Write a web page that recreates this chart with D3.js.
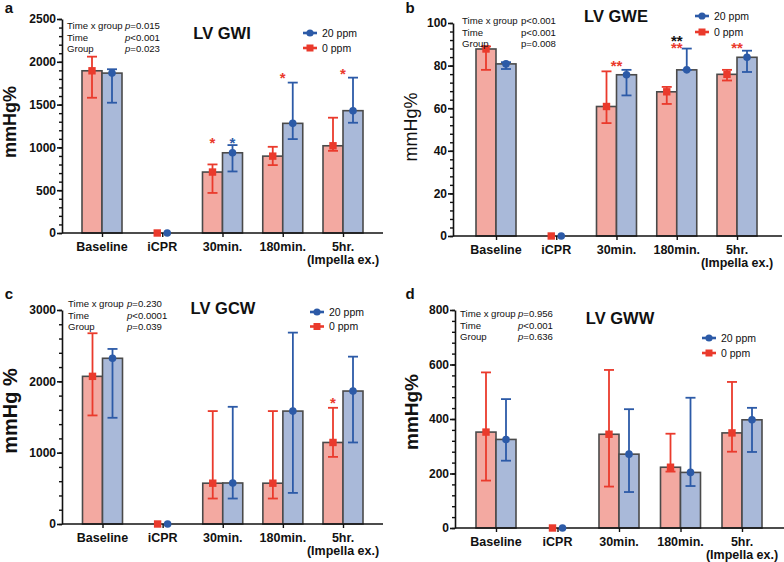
<!DOCTYPE html>
<html><head><meta charset="utf-8">
<script src="https://cdn.jsdelivr.net/npm/d3@7"></script>
<style>
body{margin:0;background:#fff}
svg{display:block}
text{font-family:"Liberation Sans",Arial,sans-serif;fill:#111}
</style>
</head><body>
<svg id="chart" width="784" height="562"></svg>
<script>
// ---------------- DATA ----------------
const categories = ["Baseline", "iCPR", "30min.", "180min.", "5hr."];
const categorySublabels = ["", "", "", "", "(Impella ex.)"];
const groupNames = ["20 ppm", "0 ppm"];

// LV GWI
const gwiZero    = [1895, 0, 712, 898, 1019];
const gwiZeroLo  = [1580, 0, 468, 793, 960];
const gwiZeroHi  = [2060, 0, 801, 1007, 1347];
const gwiTwenty   = [1868, 0, 937, 1281, 1429];
const gwiTwentyLo = [1522, 0, 719, 1097, 1288];
const gwiTwentyHi = [1913, 0, 1027, 1757, 1815];
const gwiTicks = [0, 500, 1000, 1500, 2000, 2500];
const gwiStats = [["Time x group", "p", "=0.015"], ["Time", "p", "<0.001"], ["Group", "p", "=0.023"]];
// stars: [category, bar (-1 zero, 0 centre, 1 twenty), value, text, colour]
const gwiStars = [["30min.", -1, 1090, "*", "red"], ["30min.", 1, 1090, "*", "blue"],
                  ["180min.", 0, 1850, "*", "red"], ["5hr.", 0, 1890, "*", "red"]];

// LV GWE
const gweZero    = [87.8, 0, 60.8, 67.7, 75.9];
const gweZeroLo  = [78, 0, 53, 62, 73];
const gweZeroHi  = [89, 0, 77.3, 70, 78];
const gweTwenty   = [80.8, 0, 75.7, 78, 83.9];
const gweTwentyLo = [78.4, 0, 66, 78, 77];
const gweTwentyHi = [81.6, 0, 78, 88, 87];
const gweTicks = [0, 20, 40, 60, 80, 100];
const gweStats = [["Time x group", "p", "<0.001"], ["Time", "p", "<0.001"], ["Group", "p", "=0.008"]];
const gweStars = [["30min.", 0, 81.4, "**", "red"], ["180min.", 0, 93.1, "**", "black"],
                  ["180min.", 0, 89.8, "**", "red"], ["5hr.", 0, 89.5, "**", "red"]];

// LV GCW
const gcwZero    = [2070, 0, 572, 572, 1143];
const gcwZeroLo  = [1522, 0, 357, 357, 941];
const gcwZeroHi  = [2674, 0, 1583, 1583, 1629];
const gcwTwenty   = [2323, 0, 575, 1583, 1864];
const gcwTwentyLo = [1489, 0, 357, 436, 1143];
const gcwTwentyHi = [2454, 0, 1643, 2683, 2346];
const gcwTicks = [0, 1000, 2000, 3000];
const gcwStats = [["Time x group", "p", "=0.230"], ["Time", "p", "<0.0001"], ["Group", "p", "=0.039"]];
const gcwStars = [["5hr.", -1, 1737, "*", "red"]];

// LV GWW
const gwwZero    = [352, 0, 344, 223, 349];
const gwwZeroLo  = [174, 0, 152, 207, 280];
const gwwZeroHi  = [571, 0, 580, 346, 536];
const gwwTwenty   = [325, 0, 271, 204, 397];
const gwwTwentyLo = [247, 0, 132, 154, 279];
const gwwTwentyHi = [473, 0, 436, 478, 441];
const gwwTicks = [0, 200, 400, 600, 800];
const gwwStats = [["Time x group", "p", "=0.956"], ["Time", "p", "<0.001"], ["Group", "p", "=0.636"]];
const gwwStars = [];

// ---------------- STYLE / LAYOUT ----------------
const C = {red: "#ea3a2c", blue: "#2c5aa7", pink: "#f3a9a1", lblue: "#a9b9d9", stroke: "#4a4a4a", black: "#111"};

const panels = [
  {letter: "a", title: "LV GWI", ylabel: "mmHg%", ylabBold: true, ylabSize: 18, italicP: true,
   zero: gwiZero, zeroLo: gwiZeroLo, zeroHi: gwiZeroHi, tw: gwiTwenty, twLo: gwiTwentyLo, twHi: gwiTwentyHi,
   ticks: gwiTicks, minor: 100, stats: gwiStats, stars: gwiStars,
   L: {x0: 62, x1: 383, y0: 233, y1: 19, c0: 102, c1: 343, letter: [9, 13], title: [222, 39],
       stats: [67, 125, 29], legend: [303, 33, 15], ylab: [16, 122]}},
  {letter: "b", title: "LV GWE", ylabel: "mmHg%", ylabBold: false, ylabSize: 18, italicP: false,
   zero: gweZero, zeroLo: gweZeroLo, zeroHi: gweZeroHi, tw: gweTwenty, twLo: gweTwentyLo, twHi: gweTwentyHi,
   ticks: gweTicks, minor: 4, stats: gweStats, stars: gweStars,
   L: {x0: 453, x1: 782, y0: 236, y1: 23, c0: 496, c1: 737, letter: [410, 13], title: [616, 22],
       stats: [462, 521, 24], legend: [695, 16, 16], ylab: [417, 127]}},
  {letter: "c", title: "LV GCW", ylabel: "mmHg %", ylabBold: true, ylabSize: 20, italicP: true,
   zero: gcwZero, zeroLo: gcwZeroLo, zeroHi: gcwZeroHi, tw: gcwTwenty, twLo: gcwTwentyLo, twHi: gcwTwentyHi,
   ticks: gcwTicks, minor: 200, stats: gcwStats, stars: gcwStars,
   L: {x0: 62, x1: 383, y0: 524, y1: 310, c0: 102.5, c1: 343, letter: [9, 299], title: [223, 314],
       stats: [68, 127, 307], legend: [310, 312, 14.5], ylab: [17, 411]}},
  {letter: "d", title: "LV GWW", ylabel: "mmHg%", ylabBold: true, ylabSize: 19, italicP: true,
   zero: gwwZero, zeroLo: gwwZeroLo, zeroHi: gwwZeroHi, tw: gwwTwenty, twLo: gwwTwentyLo, twHi: gwwTwentyHi,
   ticks: gwwTicks, minor: 40, stats: gwwStats, stars: gwwStars,
   L: {x0: 455, x1: 784, y0: 528, y1: 310, c0: 496, c1: 742, letter: [410, 299], title: [620, 324],
       stats: [460, 518, 317], legend: [702, 338, 15], ylab: [418, 412]}}
];

const svg = d3.select("#chart");
const barW = 20;

panels.forEach(p => {
  const L = p.L;
  const g = svg.append("g");
  const yMax = p.ticks[p.ticks.length - 1];
  const y = d3.scaleLinear().domain([0, yMax]).range([L.y0, L.y1]);
  const x = d3.scalePoint().domain(categories).range([L.c0, L.c1]);

  const rows = categories.map((c, i) => ({
    cat: c, zero: p.zero[i], zeroLo: p.zeroLo[i], zeroHi: p.zeroHi[i],
    tw: p.tw[i], twLo: p.twLo[i], twHi: p.twHi[i]
  }));

  // bars
  const barRows = rows.filter(r => r.zero > 0 || r.tw > 0);
  g.selectAll(".bz").data(barRows).enter().append("rect")
    .attr("x", d => x(d.cat) - barW).attr("width", barW)
    .attr("y", d => y(d.zero)).attr("height", d => y(0) - y(d.zero))
    .attr("fill", C.pink).attr("stroke", C.stroke).attr("stroke-width", 1.6);
  g.selectAll(".bt").data(barRows).enter().append("rect")
    .attr("x", d => x(d.cat)).attr("width", barW)
    .attr("y", d => y(d.tw)).attr("height", d => y(0) - y(d.tw))
    .attr("fill", C.lblue).attr("stroke", C.stroke).attr("stroke-width", 1.6);

  // error bars
  const off = d => (d.zero > 0 || d.tw > 0) ? barW / 2 : 5;
  function errBars(valLo, valHi, sign, col) {
    const eg = g.append("g").attr("stroke", col).attr("stroke-width", 1.8).attr("fill", "none");
    barRows.forEach(d => {
      const cx = x(d.cat) + sign * off(d);
      const lo = y(d[valLo]), hi = y(d[valHi]);
      eg.append("line").attr("x1", cx).attr("x2", cx).attr("y1", lo).attr("y2", hi);
      eg.append("line").attr("x1", cx - 5).attr("x2", cx + 5).attr("y1", hi).attr("y2", hi);
      if (Math.abs(lo - hi) > 0.5 && lo < y(0) - 0.5)
        eg.append("line").attr("x1", cx - 5).attr("x2", cx + 5).attr("y1", lo).attr("y2", lo);
    });
  }
  errBars("zeroLo", "zeroHi", -1, C.red);
  errBars("twLo", "twHi", 1, C.blue);

  // axes
  const yAxisMinor = d3.axisLeft(y).tickValues(d3.range(0, yMax + 1e-9, p.minor)).tickSize(3).tickFormat("");
  const ya2 = g.append("g").attr("transform", `translate(${L.x0},0)`).call(yAxisMinor);
  ya2.select(".domain").remove();
  ya2.selectAll("line").attr("stroke", C.black).attr("stroke-width", 1.4);

  const yAxis = d3.axisLeft(y).tickValues(p.ticks).tickSize(5).tickPadding(1).tickSizeOuter(0)
    .tickFormat(d3.format("d"));
  const ya = g.append("g").attr("transform", `translate(${L.x0},0)`).call(yAxis);
  ya.select(".domain").attr("stroke", C.black).attr("stroke-width", 1.6);
  ya.selectAll("line").attr("stroke", C.black).attr("stroke-width", 1.6);
  ya.selectAll("text").attr("font-size", 12).attr("font-weight", "bold").attr("fill", C.black)
    .style("font-family", '"Liberation Sans", Arial, sans-serif');

  const xAxis = d3.axisBottom(x).tickSize(4).tickSizeOuter(0).tickFormat("");
  const xa = g.append("g").attr("transform", `translate(0,${L.y0})`).call(xAxis);
  xa.select(".domain").attr("d", `M${L.x0},0H${L.x1}`).attr("stroke", C.black).attr("stroke-width", 1.6);
  xa.selectAll("line").attr("stroke", C.black).attr("stroke-width", 1.4);

  // x labels
  categories.forEach((c, i) => {
    g.append("text").attr("x", x(c)).attr("y", L.y0 + 17.5).attr("text-anchor", "middle")
      .attr("font-size", 12.5).attr("font-weight", "bold").text(c);
    if (categorySublabels[i])
      g.append("text").attr("x", x(c)).attr("y", L.y0 + 31).attr("text-anchor", "middle")
        .attr("font-size", 12.5).attr("font-weight", "bold").text(categorySublabels[i]);
  });

  // markers
  rows.forEach(d => {
    const cz = x(d.cat) - off(d), ct = x(d.cat) + off(d);
    g.append("rect").attr("x", cz - 3.7).attr("y", y(d.zero) - 3.7).attr("width", 7.4).attr("height", 7.4)
      .attr("fill", C.red);
    g.append("circle").attr("cx", ct).attr("cy", y(d.tw)).attr("r", 3.8).attr("fill", C.blue);
  });

  // stars
  p.stars.forEach(s => {
    const cx = x(s[0]) + s[1] * barW / 2;
    const col = s[4] === "red" ? C.red : s[4] === "blue" ? C.blue : C.black;
    g.append("text").attr("x", cx).attr("y", y(s[2]) + 8).attr("text-anchor", "middle")
      .attr("font-size", 15).attr("font-weight", "bold").attr("fill", col).style("fill", col).text(s[3]);
  });

  // y label
  g.append("text").attr("transform", `translate(${L.ylab[0]},${L.ylab[1]}) rotate(-90)`)
    .attr("text-anchor", "middle").attr("font-size", p.ylabSize)
    .attr("font-weight", p.ylabBold ? "bold" : "normal").text(p.ylabel);

  // panel letter
  g.append("text").attr("x", L.letter[0]).attr("y", L.letter[1]).attr("text-anchor", "middle")
    .attr("font-size", 15).attr("font-weight", "bold").text(p.letter);

  // title
  g.append("text").attr("x", L.title[0]).attr("y", L.title[1]).attr("text-anchor", "middle")
    .attr("font-size", 16.5).attr("font-weight", "bold").text(p.title);

  // stats
  p.stats.forEach((s, i) => {
    const yy = L.stats[2] + i * 11.7;
    g.append("text").attr("x", L.stats[0]).attr("y", yy).attr("font-size", 9.6).text(s[0]);
    const t = g.append("text").attr("x", L.stats[1]).attr("y", yy).attr("font-size", 9.6);
    t.append("tspan").attr("font-style", p.italicP ? "italic" : "normal").text(s[1]);
    t.append("tspan").text(s[2]);
  });

  // legend
  const [lx, ly, gap] = L.legend;
  [[groupNames[0], C.blue, "circle"], [groupNames[1], C.red, "square"]].forEach((it, i) => {
    const yy = ly + i * gap;
    g.append("line").attr("x1", lx).attr("x2", lx + 14).attr("y1", yy).attr("y2", yy)
      .attr("stroke", it[1]).attr("stroke-width", 2.6);
    if (it[2] === "circle")
      g.append("circle").attr("cx", lx + 7).attr("cy", yy).attr("r", 3.6).attr("fill", it[1]);
    else
      g.append("rect").attr("x", lx + 3.5).attr("y", yy - 3.5).attr("width", 7).attr("height", 7).attr("fill", it[1]);
    g.append("text").attr("x", lx + 19).attr("y", yy + 3.8).attr("font-size", 10.5).text(it[0]);
  });
});
</script>
</body></html>
